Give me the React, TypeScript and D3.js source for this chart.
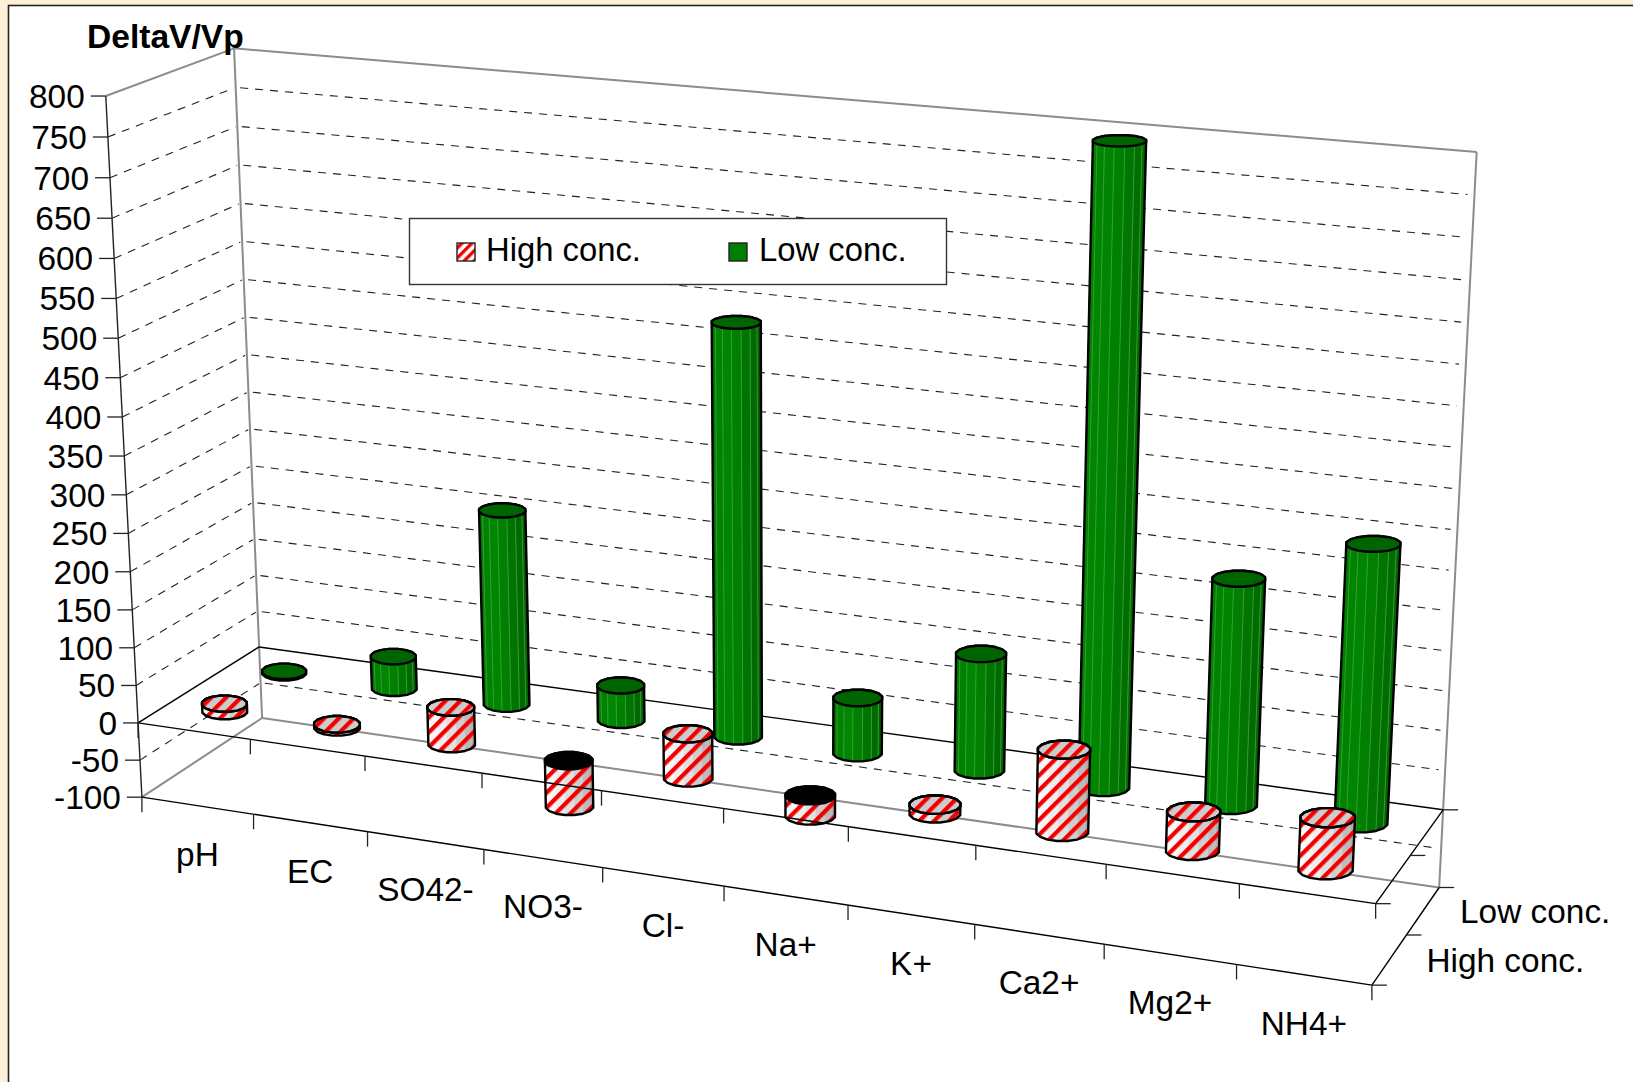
import React from "react";
import * as d3 from "d3";

const categories = ["pH", "EC", "SO42-", "NO3-", "Cl-", "Na+", "K+", "Ca2+", "Mg2+", "NH4+"];
const seriesNames = ["High conc.", "Low conc."];
const highConc = [10, 4, 48, -60, 57, -26, 11, 103, 48, 64];
const lowConc = [2, 43, 258, 46, 533, 72, 150, 796, 285, 347];
const valueTicks = [800, 750, 700, 650, 600, 550, 500, 450, 400, 350, 300, 250, 200, 150, 100, 50, 0, -50, -100];

const WIDTH = 1633;
const HEIGHT = 1082;

// Known screen anchors of the chart box: [x fraction, value, z fraction, screen x, screen y]
const boxAnchors = [
  [0, 800, 0, 106, 95.5],
  [0, 0, 0, 138.3, 723],
  [0, -100, 0, 141.7, 798],
  [0, 800, 1, 233.7, 49],
  [0, 0, 1, 259, 646],
  [0, -100, 1, 262.3, 718],
  [1, 800, 1, 1476.7, 152],
  [1, 0, 1, 1443.3, 809.7],
  [1, -100, 1, 1439.2, 888],
  [1, 0, 0, 1376.3, 903.4],
  [1, -100, 0, 1371, 985],
];

const xBand = d3.scaleBand<string>().domain(categories).range([0, 1]);
const zBand = d3.scaleBand<string>().domain(seriesNames).range([0, 1]);
const yNorm = d3.scaleLinear().domain([-100, 800]).range([0, 1]);

// Least-squares fit of a pinhole projection to the anchors.
function fitProjection(): number[] {
  const A: number[][] = [];
  const b: number[] = [];
  boxAnchors.forEach(([x, val, z, sx, sy]) => {
    const y = yNorm(val);
    A.push([x, y, z, 1, 0, 0, 0, 0, -sx * x, -sx * y, -sx * z]);
    b.push(sx);
    A.push([0, 0, 0, 0, x, y, z, 1, -sy * x, -sy * y, -sy * z]);
    b.push(sy);
  });
  const n = 11;
  const M = d3.range(n).map((r) => {
    const row = d3.range(n).map((c) => d3.sum(A, (a) => a[r] * a[c]));
    row.push(d3.sum(A, (a, i) => a[r] * b[i]));
    return row;
  });
  for (let i = 0; i < n; i++) {
    let p = i;
    for (let r = i + 1; r < n; r++) if (Math.abs(M[r][i]) > Math.abs(M[p][i])) p = r;
    [M[i], M[p]] = [M[p], M[i]];
    for (let r = 0; r < n; r++) {
      if (r === i) continue;
      const f = M[r][i] / M[i][i];
      for (let c = i; c <= n; c++) M[r][c] -= f * M[i][c];
    }
  }
  return d3.range(n).map((i) => M[i][n] / M[i][i]);
}

const P = fitProjection();
type Pt = [number, number];
const project = (x: number, val: number, z: number): Pt => {
  const y = yNorm(val);
  const w = P[8] * x + P[9] * y + P[10] * z + 1;
  return [(P[0] * x + P[1] * y + P[2] * z + P[3]) / w, (P[4] * x + P[5] * y + P[6] * z + P[7]) / w];
};

const path = d3.line<Pt>();
const closed = (pts: Pt[]) => (path(pts) as string) + "Z";

const SIDES = 16;
const R_X = 0.0205;
const R_Z = 0.105;

const FONT = "'Liberation Sans', Arial, sans-serif";

const redShade = d3.interpolateRgbBasis(["#ffffff", "#f2f2f2", "#e2e2e2", "#c8c8c8", "#a8a8a8"]);
const greenShade = d3.interpolateRgbBasis(["#007800", "#008a00", "#008000", "#007000", "#005e00"]);

function Cylinder({ cat, series, value }: { cat: string; series: string; value: number }) {
  const cx = (xBand(cat) as number) + xBand.bandwidth() / 2;
  const cz = (zBand(series) as number) + zBand.bandwidth() / 2;
  const striped = series === seriesNames[0];
  const top = Math.max(0, value);
  const bottom = Math.min(0, value);
  // Caps stay level on screen: their radii come from the projected unit lengths at that height.
  const ring = (val: number): Pt[] => {
    const c = project(cx, val, cz);
    const rx = Math.abs(project(cx + R_X, val, cz)[0] - project(cx - R_X, val, cz)[0]) / 2;
    const ry = Math.abs(project(cx, val, cz + R_Z)[1] - project(cx, val, cz - R_Z)[1]) / 2;
    return d3.range(SIDES).map((i) => {
      const a = ((i + 0.5) / SIDES) * 2 * Math.PI;
      return [c[0] + rx * Math.cos(a), c[1] + ry * Math.sin(a)] as Pt;
    });
  };
  const upper = ring(top);
  const lower = ring(bottom);
  const hull = d3.polygonHull([...upper, ...lower]) as Pt[];
  const [minX, maxX] = d3.extent(hull, (p) => p[0]) as [number, number];
  const facets = d3
    .range(SIDES / 2)
    .map((i) => {
      const j = (i + 1) % SIDES;
      return [lower[i], lower[j], upper[j], upper[i]] as Pt[];
    });
  const capFill = value < 0 ? "#000000" : striped ? "#cccccc" : "#006400";
  return (
    <g>
      {facets.map((q, i) => {
        const t = (d3.mean(q, (p) => p[0])! - minX) / (maxX - minX);
        const c = striped ? redShade(t) : greenShade(t);
        return <path key={i} d={closed(q)} fill={c} stroke={c} strokeWidth={0.6} />;
      })}
      {striped && <path d={closed(hull)} fill="url(#stripes)" />}
      {!striped &&
        facets.slice(1).map((q, i) => (
          <line key={i} x1={q[0][0]} y1={q[0][1]} x2={q[3][0]} y2={q[3][1]} stroke="#3fa33f" strokeWidth={0.8} />
        ))}
      <path d={closed(hull)} fill="none" stroke="#000" strokeWidth={2.4} strokeLinejoin="round" />
      <path d={closed(upper)} fill={capFill} stroke="#000" strokeWidth={2.4} strokeLinejoin="round" />
      {striped && value >= 0 && <path d={closed(upper)} fill="url(#stripes)" />}
      {striped && value >= 0 && <path d={closed(upper)} fill="none" stroke="#000" strokeWidth={2.4} strokeLinejoin="round" />}
    </g>
  );
}

function Seg({ a, b, stroke = "#000", w = 1.4, dash }: { a: Pt; b: Pt; stroke?: string; w?: number; dash?: string }) {
  return <line x1={a[0]} y1={a[1]} x2={b[0]} y2={b[1]} stroke={stroke} strokeWidth={w} strokeDasharray={dash} />;
}

const GREY = "#8c8c8c";
const GRID_DASH = "8 7";
const gridValues = valueTicks.filter((v) => v !== 800 && v !== 0 && v !== -100);
const xEdges = d3.range(categories.length + 1).map((i) => i / categories.length);
const zEdges = [0, 0.5, 1];

export default function App() {
  const rows = [
    { name: seriesNames[1], values: lowConc },
    { name: seriesNames[0], values: highConc },
  ];
  return (
    <svg
      width={WIDTH}
      height={HEIGHT}
      viewBox={`0 0 ${WIDTH} ${HEIGHT}`}
      style={{ position: "absolute", left: 0, top: 0, display: "block" }}
      fontFamily={FONT}
    >
      <defs>
        <pattern id="stripes" width={10.5} height={10.5} patternUnits="userSpaceOnUse" patternTransform="rotate(45)">
          <rect x={0} y={0} width={4.2} height={10.5} fill="#f50000" />
        </pattern>
        <pattern id="legendStripes" width={7} height={7} patternUnits="userSpaceOnUse" patternTransform="rotate(45)">
          <rect width={7} height={7} fill="#fff" />
          <rect x={0} y={0} width={3.4} height={7} fill="#f50000" />
        </pattern>
      </defs>

      {/* Page frame */}
      <rect width={WIDTH} height={HEIGHT} fill="#fcf0d6" />
      <rect x={8.5} y={5.5} width={WIDTH} height={HEIGHT} fill="#ffffff" stroke="#222" strokeWidth={1.6} />

      {/* Walls */}
      {gridValues.map((v) => (
        <g key={v}>
          <Seg a={project(0, v, 0)} b={project(0, v, 0.985)} w={1.1} dash={GRID_DASH} stroke="#222" />
          <Seg a={project(0.004, v, 1)} b={project(0.995, v, 1)} w={1.1} dash={GRID_DASH} stroke="#222" />
        </g>
      ))}
      <Seg a={project(0, 800, 0)} b={project(0, 800, 1)} stroke={GREY} w={2} />
      <Seg a={project(0, 800, 1)} b={project(1, 800, 1)} stroke={GREY} w={2} />
      <Seg a={project(0, 800, 1)} b={project(0, -100, 1)} stroke={GREY} w={2} />
      <Seg a={project(1, 800, 1)} b={project(1, -100, 1)} stroke={GREY} w={2} />
      <Seg a={project(0, -100, 0)} b={project(0, -100, 1)} stroke={GREY} w={2} />
      <Seg a={project(0, -100, 1)} b={project(1, -100, 1)} stroke={GREY} w={2} />

      {/* Baseline plane and floor edges */}
      <Seg a={project(0, 0, 0)} b={project(0, 0, 1)} />
      <Seg a={project(0, 0, 1)} b={project(1, 0, 1)} />
      <Seg a={project(1, 0, 0)} b={project(1, 0, 1)} />
      <Seg a={project(0, -100, 0)} b={project(1, -100, 0)} />
      <Seg a={project(1, -100, 0)} b={project(1, -100, 1)} />

      {/* Value axis */}
      <Seg a={project(0, 800, 0)} b={project(0, -100, 0)} stroke="#222" />
      {valueTicks.map((v) => {
        const p = project(0, v, 0);
        return (
          <g key={v}>
            <line x1={p[0] - 15} y1={p[1]} x2={p[0]} y2={p[1]} stroke="#222" strokeWidth={1.3} />
            <text x={p[0] - 21} y={p[1] + 12} textAnchor="end" fontSize={33.4} fill="#000">
              {v}
            </text>
          </g>
        );
      })}
      <text x={87} y={48} fontSize={33.6} fontWeight="bold" fill="#000">
        DeltaV/Vp
      </text>

      {/* Category and depth ticks */}
      {xEdges.map((x) => {
        const p = project(x, -100, 0);
        return <line key={x} x1={p[0]} y1={p[1]} x2={p[0]} y2={p[1] + 15} stroke="#222" strokeWidth={1.3} />;
      })}
      {zEdges.map((z) => {
        const p = project(1, -100, z);
        const q = project(1, 0, z);
        return (
          <g key={z}>
            <line x1={p[0]} y1={p[1]} x2={p[0] + 15} y2={p[1]} stroke="#222" strokeWidth={1.3} />
            <line x1={q[0]} y1={q[1]} x2={q[0] + 15} y2={q[1]} stroke="#222" strokeWidth={1.3} />
          </g>
        );
      })}
      {categories.map((c) => {
        const p = project((xBand(c) as number) + xBand.bandwidth() / 2, -100, 0);
        return (
          <text key={c} x={p[0]} y={p[1] + 60} textAnchor="middle" fontSize={33.4} fill="#000">
            {c}
          </text>
        );
      })}
      {seriesNames.map((s) => {
        const p = project(1, -100, (zBand(s) as number) + zBand.bandwidth() / 2);
        return (
          <text key={s} x={p[0] + 37} y={p[1] + 12} fontSize={33.4} fill="#000">
            {s}
          </text>
        );
      })}

      {/* Cylinders, rear row first */}
      {rows.map((r) =>
        categories.map((c, i) => <Cylinder key={r.name + c} cat={c} series={r.name} value={r.values[i]} />),
      )}

      {/* Front baseline edge runs over the cylinders that drop below zero */}
      <Seg a={project(0, 0, 0)} b={project(1, 0, 0)} />
      {xEdges.map((x) => {
        const p = project(x, 0, 0);
        return <line key={x} x1={p[0]} y1={p[1]} x2={p[0]} y2={p[1] + 15} stroke="#222" strokeWidth={1.3} />;
      })}

      {/* Legend */}
      <rect x={409.5} y={218.5} width={537} height={66} fill="#fff" stroke="#333" strokeWidth={1.4} />
      <rect x={457} y={243} width={18} height={18} fill="url(#legendStripes)" stroke="#222" strokeWidth={1.4} />
      <text x={486} y={261} fontSize={32.8} fill="#000">
        {seriesNames[0]}
      </text>
      <rect x={729} y={243} width={18} height={18} fill="#008000" stroke="#222" strokeWidth={1.4} />
      <text x={759} y={261} fontSize={32.8} fill="#000">
        {seriesNames[1]}
      </text>
    </svg>
  );
}
